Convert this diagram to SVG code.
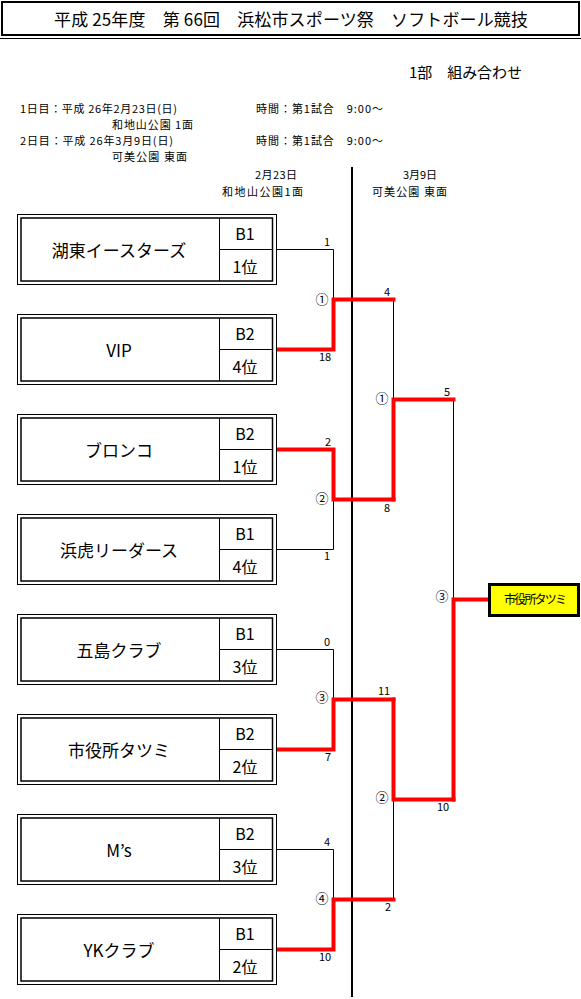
<svg xmlns="http://www.w3.org/2000/svg" width="581" height="999" viewBox="0 0 581 999">
<style>
text{font-family:"Noto Sans CJK JP","Noto Sans",sans-serif;fill:#000}
.info{font-size:11px}
.name{font-size:17px;text-anchor:middle}
.cell{font-size:16px;text-anchor:middle}
.num{font-size:11px;text-anchor:middle}
.circ{font-size:13px;text-anchor:middle}
.outer{fill:#fff;stroke:#000;stroke-width:1}
.inner{fill:none;stroke:#000;stroke-width:1.5}
.div{stroke:#000;stroke-width:1}
.blk{fill:none;stroke:#000;stroke-width:1}
.red{fill:none;stroke:#ff0000;stroke-width:4;stroke-linejoin:miter;stroke-linecap:square}
</style>
<rect width="581" height="999" fill="#fff"/>
<g id="header">
<rect x="2" y="2" width="577" height="33" fill="none" stroke="#000" stroke-width="2"/>
<line x1="0" y1="38.5" x2="581" y2="38.5" stroke="#000" stroke-width="1"/>
<text x="54" y="26" font-size="17" textLength="474">平成 25年度　第 66回　浜松市スポーツ祭　ソフトボール競技</text>
<text x="409" y="78" font-size="15" textLength="113">1部　組み合わせ</text>
<text class="info" x="20" y="113" textLength="157">1日目：平成 26年2月23日(日)</text>
<text class="info" x="112" y="129" textLength="81">和地山公園 1面</text>
<text class="info" x="20" y="145" textLength="153">2日目：平成 26年3月9日(日)</text>
<text class="info" x="112" y="161" textLength="75">可美公園 東面</text>
<text class="info" x="256" y="113" textLength="127">時間：第1試合　9:00～</text>
<text class="info" x="256" y="145" textLength="127">時間：第1試合　9:00～</text>
<text class="info" x="255" y="179" textLength="42">2月23日</text>
<text class="info" x="222" y="196" textLength="81">和地山公園1面</text>
<text class="info" x="403" y="179" textLength="34">3月9日</text>
<text class="info" x="372" y="196" textLength="75">可美公園 東面</text>
</g>
<g id="connectors">
<line x1="352" y1="167" x2="352" y2="997" stroke="#000" stroke-width="2"/>
<polyline class="blk" points="276,249.5 333.5,249.5 333.5,299.5"/>
<polyline class="blk" points="276,549.5 333.5,549.5 333.5,499.5"/>
<polyline class="blk" points="276,649.5 333.5,649.5 333.5,699.5"/>
<polyline class="blk" points="276,849.5 333.5,849.5 333.5,899.5"/>
<line class="blk" x1="393.5" y1="299.5" x2="393.5" y2="399.5"/>
<line class="blk" x1="393.5" y1="899.5" x2="393.5" y2="799.5"/>
<line class="blk" x1="453.5" y1="399.5" x2="453.5" y2="599.5"/>
<polyline class="red" points="278,349.5 333.5,349.5 333.5,299.5 393.5,299.5"/>
<polyline class="red" points="278,449.5 333.5,449.5 333.5,499.5 393.5,499.5"/>
<polyline class="red" points="278,749.5 333.5,749.5 333.5,699.5 393.5,699.5"/>
<polyline class="red" points="278,949.5 333.5,949.5 333.5,899.5 393.5,899.5"/>
<polyline class="red" points="393.5,499.5 393.5,399.5 453.5,399.5"/>
<polyline class="red" points="393.5,699.5 393.5,799.5 453.5,799.5"/>
<polyline class="red" points="453.5,799.5 453.5,599.5 487,599.5"/>
<text class="num" x="327" y="246">1</text>
<text class="num" x="387" y="296">4</text>
<text class="circ" x="322" y="303.5">①</text>
<text class="num" x="325" y="361">18</text>
<text class="num" x="328" y="446">2</text>
<text class="circ" x="322" y="502.5">②</text>
<text class="num" x="387" y="512">8</text>
<text class="num" x="327" y="560">1</text>
<text class="circ" x="382" y="402.5">①</text>
<text class="num" x="447" y="396">5</text>
<text class="num" x="327" y="646">0</text>
<text class="circ" x="322" y="701.5">③</text>
<text class="num" x="384" y="695">11</text>
<text class="num" x="328" y="761">7</text>
<text class="circ" x="382" y="801.5">②</text>
<text class="num" x="443" y="811">10</text>
<text class="num" x="327" y="846">4</text>
<text class="circ" x="322" y="902.5">④</text>
<text class="num" x="388" y="911">2</text>
<text class="num" x="325" y="961">10</text>
<text class="circ" x="442" y="600.5">③</text>
</g>
<g id="team1" transform="translate(0,0)">
<rect class="outer" x="17.5" y="214.5" width="259" height="70"/>
<rect class="inner" x="21" y="218" width="251.5" height="63"/>
<line class="div" x1="219.5" y1="218" x2="219.5" y2="281"/>
<line class="div" x1="219.5" y1="249.5" x2="272" y2="249.5" stroke-width="2"/>
<text class="name" x="119" y="257">湖東イースターズ</text>
<text class="cell" x="245" y="240">B1</text>
<text class="cell" x="245" y="273">1位</text>
</g>
<g id="team2" transform="translate(0,100)">
<rect class="outer" x="17.5" y="214.5" width="259" height="70"/>
<rect class="inner" x="21" y="218" width="251.5" height="63"/>
<line class="div" x1="219.5" y1="218" x2="219.5" y2="281"/>
<line class="div" x1="219.5" y1="249.5" x2="272" y2="249.5"/>
<text class="name" x="119" y="257">VIP</text>
<text class="cell" x="245" y="240">B2</text>
<text class="cell" x="245" y="273">4位</text>
</g>
<g id="team3" transform="translate(0,200)">
<rect class="outer" x="17.5" y="214.5" width="259" height="70"/>
<rect class="inner" x="21" y="218" width="251.5" height="63"/>
<line class="div" x1="219.5" y1="218" x2="219.5" y2="281"/>
<line class="div" x1="219.5" y1="249.5" x2="272" y2="249.5"/>
<text class="name" x="119" y="257">ブロンコ</text>
<text class="cell" x="245" y="240">B2</text>
<text class="cell" x="245" y="273">1位</text>
</g>
<g id="team4" transform="translate(0,300)">
<rect class="outer" x="17.5" y="214.5" width="259" height="70"/>
<rect class="inner" x="21" y="218" width="251.5" height="63"/>
<line class="div" x1="219.5" y1="218" x2="219.5" y2="281"/>
<line class="div" x1="219.5" y1="249.5" x2="272" y2="249.5"/>
<text class="name" x="119" y="257">浜虎リーダース</text>
<text class="cell" x="245" y="240">B1</text>
<text class="cell" x="245" y="273">4位</text>
</g>
<g id="team5" transform="translate(0,400)">
<rect class="outer" x="17.5" y="214.5" width="259" height="70"/>
<rect class="inner" x="21" y="218" width="251.5" height="63"/>
<line class="div" x1="219.5" y1="218" x2="219.5" y2="281"/>
<line class="div" x1="219.5" y1="249.5" x2="272" y2="249.5"/>
<text class="name" x="119" y="257">五島クラブ</text>
<text class="cell" x="245" y="240">B1</text>
<text class="cell" x="245" y="273">3位</text>
</g>
<g id="team6" transform="translate(0,500)">
<rect class="outer" x="17.5" y="214.5" width="259" height="70"/>
<rect class="inner" x="21" y="218" width="251.5" height="63"/>
<line class="div" x1="219.5" y1="218" x2="219.5" y2="281"/>
<line class="div" x1="219.5" y1="249.5" x2="272" y2="249.5"/>
<text class="name" x="119" y="257">市役所タツミ</text>
<text class="cell" x="245" y="240">B2</text>
<text class="cell" x="245" y="273">2位</text>
</g>
<g id="team7" transform="translate(0,600)">
<rect class="outer" x="17.5" y="214.5" width="259" height="70"/>
<rect class="inner" x="21" y="218" width="251.5" height="63"/>
<line class="div" x1="219.5" y1="218" x2="219.5" y2="281"/>
<line class="div" x1="219.5" y1="249.5" x2="272" y2="249.5"/>
<text class="name" x="119" y="257">M’s</text>
<text class="cell" x="245" y="240">B2</text>
<text class="cell" x="245" y="273">3位</text>
</g>
<g id="team8" transform="translate(0,700)">
<rect class="outer" x="17.5" y="214.5" width="259" height="70"/>
<rect class="inner" x="21" y="218" width="251.5" height="63"/>
<line class="div" x1="219.5" y1="218" x2="219.5" y2="281"/>
<line class="div" x1="219.5" y1="249.5" x2="272" y2="249.5"/>
<text class="name" x="119" y="257">YKクラブ</text>
<text class="cell" x="245" y="240">B1</text>
<text class="cell" x="245" y="273">2位</text>
</g>
<g id="winner">
<rect x="489.5" y="584.5" width="89" height="31" fill="#ffff00" stroke="#000" stroke-width="3"/>
<text x="504" y="604" font-size="12" textLength="63">市役所タツミ</text>
</g>
</svg>
